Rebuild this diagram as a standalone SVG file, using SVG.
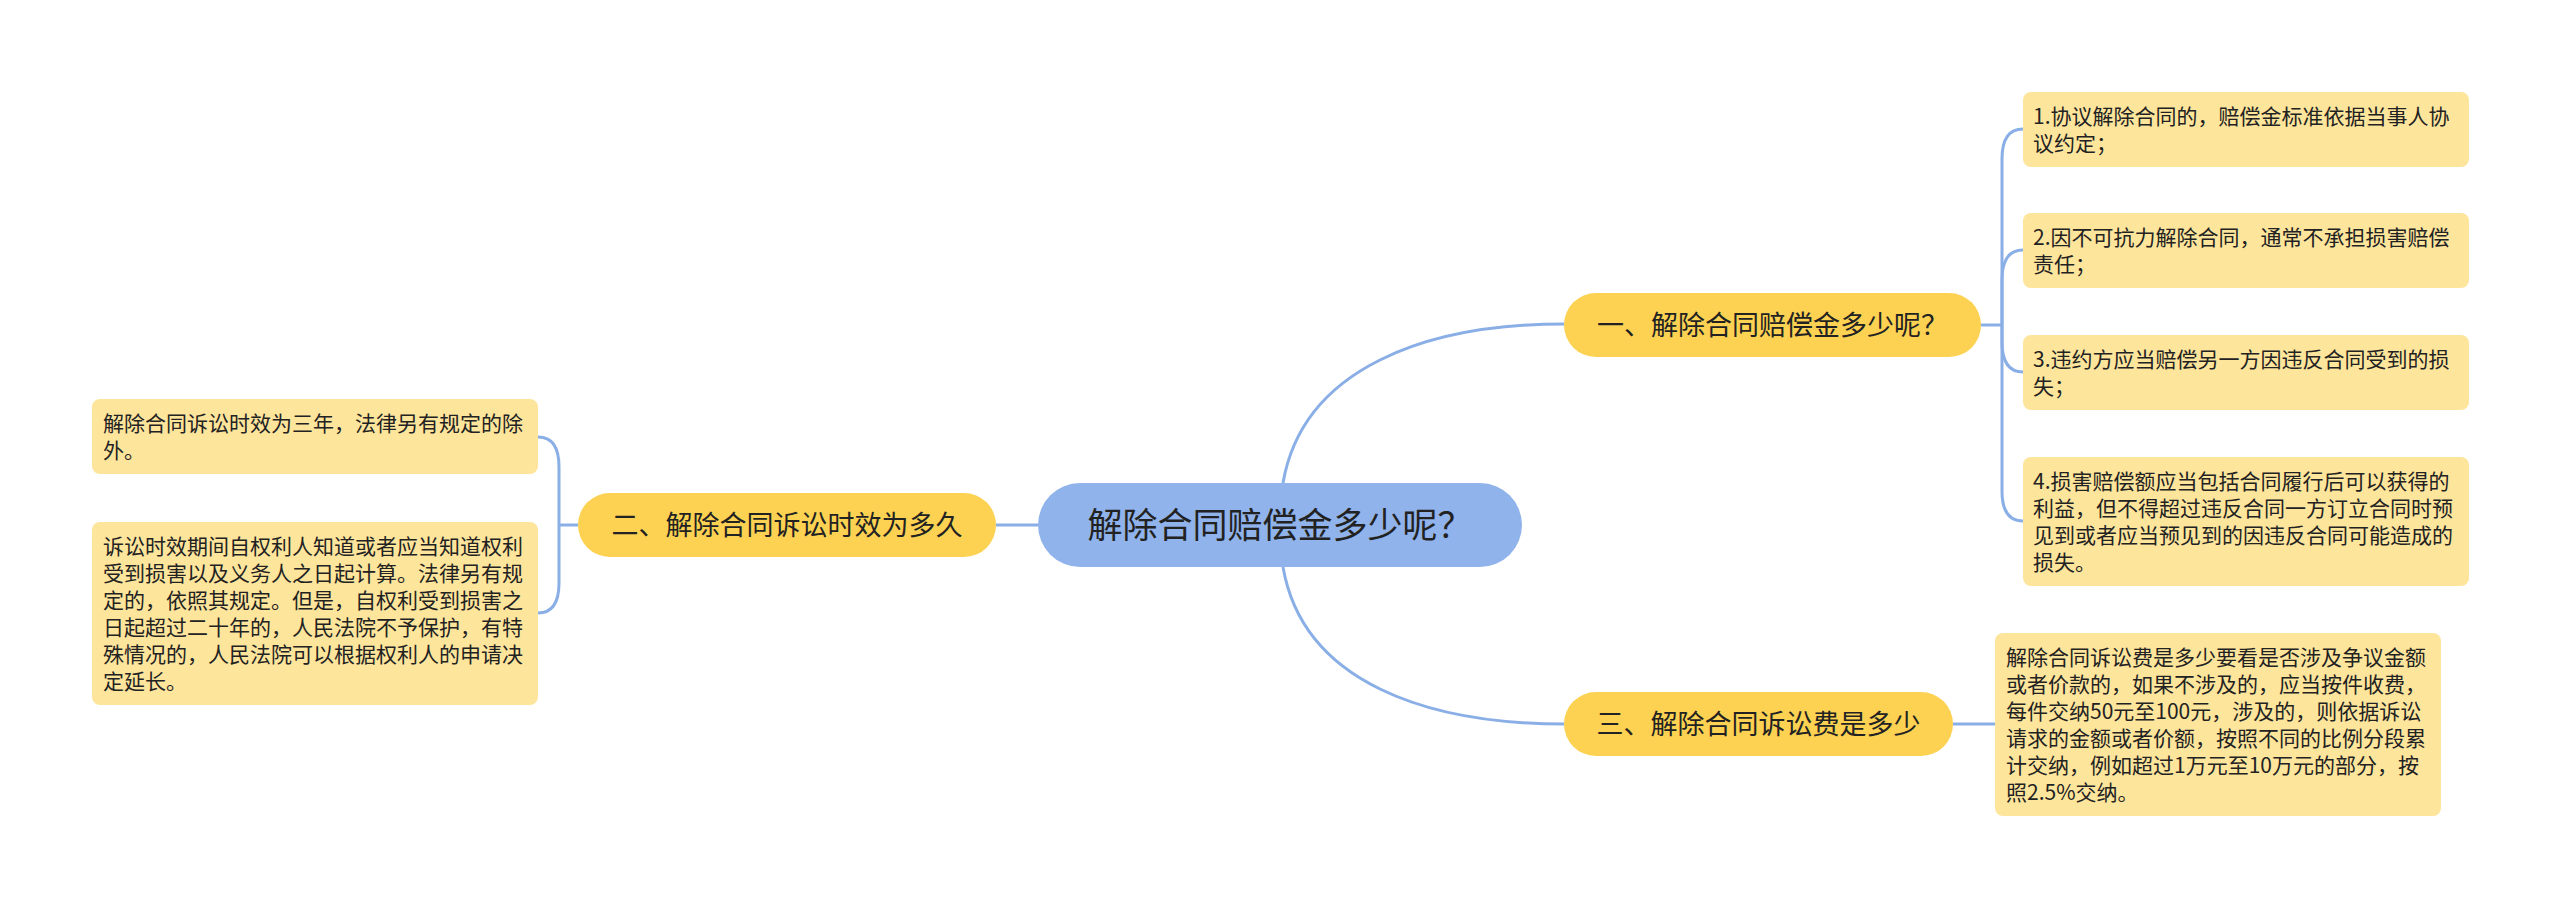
<svg xmlns="http://www.w3.org/2000/svg" width="2560" height="909" viewBox="0 0 2560 909">
<style>
.conn{fill:none;stroke:#8aaee6;stroke-width:3}
.root{fill:#8fb3ea}
.br{fill:#fdd252}
.leaf{fill:#fee59c}
text{font-family:"Noto Sans CJK SC","Noto Sans",sans-serif;fill:#222222}
.t-root{font-size:35px;text-anchor:middle}
.t-br{font-size:27px;text-anchor:middle}
.t-leaf{font-size:21px}
</style>
<rect width="2560" height="909" fill="#ffffff"/>
<g id="connectors">
<path class="conn" d="M1283,483 C1303,367 1428,324 1564,324"/>
<path class="conn" d="M1283,567 C1303,683 1428,724 1564,724"/>
<path class="conn" d="M1038,525 H996"/>
<path class="conn" d="M578,525 H559"/>
<path class="conn" d="M559,525 V467 Q559,437 538,437"/>
<path class="conn" d="M559,525 V583 Q559,613 538,613"/>
<path class="conn" d="M1981,325 H2002"/>
<path class="conn" d="M2002,325 V159 Q2002,129 2023,129"/>
<path class="conn" d="M2002,325 V280 Q2002,250 2023,250"/>
<path class="conn" d="M2002,325 V342 Q2002,372 2023,372"/>
<path class="conn" d="M2002,325 V491 Q2002,521 2023,521"/>
<path class="conn" d="M1953,724 H1995"/>
</g>
<g id="root">
<rect class="root" x="1038" y="483" width="484" height="84" rx="42"/>
<text class="t-root" x="1280" y="538">解除合同赔偿金多少呢？</text>
</g>
<g id="branch1">
<rect class="br" x="1564" y="293" width="417" height="64" rx="32"/>
<text class="t-br" x="1772.5" y="335">一、解除合同赔偿金多少呢？</text>
</g>
<g id="branch2">
<rect class="br" x="578" y="493" width="418" height="64" rx="32"/>
<text class="t-br" x="787" y="535">二、解除合同诉讼时效为多久</text>
</g>
<g id="branch3">
<rect class="br" x="1564" y="692" width="389" height="64" rx="32"/>
<text class="t-br" x="1758.5" y="734">三、解除合同诉讼费是多少</text>
</g>
<g id="leaf1-1">
<rect class="leaf" x="2023" y="92" width="446" height="75" rx="8"/>
<text class="t-leaf" x="2033" y="124">1.协议解除合同的，赔偿金标准依据当事人协</text>
<text class="t-leaf" x="2033" y="151">议约定；</text>
</g>
<g id="leaf1-2">
<rect class="leaf" x="2023" y="213" width="446" height="75" rx="8"/>
<text class="t-leaf" x="2033" y="245">2.因不可抗力解除合同，通常不承担损害赔偿</text>
<text class="t-leaf" x="2033" y="272">责任；</text>
</g>
<g id="leaf1-3">
<rect class="leaf" x="2023" y="335" width="446" height="75" rx="8"/>
<text class="t-leaf" x="2033" y="367">3.违约方应当赔偿另一方因违反合同受到的损</text>
<text class="t-leaf" x="2033" y="394">失；</text>
</g>
<g id="leaf1-4">
<rect class="leaf" x="2023" y="457" width="446" height="129" rx="8"/>
<text class="t-leaf" x="2033" y="489">4.损害赔偿额应当包括合同履行后可以获得的</text>
<text class="t-leaf" x="2033" y="516">利益，但不得超过违反合同一方订立合同时预</text>
<text class="t-leaf" x="2033" y="543">见到或者应当预见到的因违反合同可能造成的</text>
<text class="t-leaf" x="2033" y="570">损失。</text>
</g>
<g id="leaf2-1">
<rect class="leaf" x="92" y="399" width="446" height="75" rx="8"/>
<text class="t-leaf" x="103" y="431">解除合同诉讼时效为三年，法律另有规定的除</text>
<text class="t-leaf" x="103" y="458">外。</text>
</g>
<g id="leaf2-2">
<rect class="leaf" x="92" y="522" width="446" height="183" rx="8"/>
<text class="t-leaf" x="103" y="554">诉讼时效期间自权利人知道或者应当知道权利</text>
<text class="t-leaf" x="103" y="581">受到损害以及义务人之日起计算。法律另有规</text>
<text class="t-leaf" x="103" y="608">定的，依照其规定。但是，自权利受到损害之</text>
<text class="t-leaf" x="103" y="635">日起超过二十年的，人民法院不予保护，有特</text>
<text class="t-leaf" x="103" y="662">殊情况的，人民法院可以根据权利人的申请决</text>
<text class="t-leaf" x="103" y="689">定延长。</text>
</g>
<g id="leaf3-1">
<rect class="leaf" x="1995" y="633" width="446" height="183" rx="8"/>
<text class="t-leaf" x="2006" y="665">解除合同诉讼费是多少要看是否涉及争议金额</text>
<text class="t-leaf" x="2006" y="692">或者价款的，如果不涉及的，应当按件收费，</text>
<text class="t-leaf" x="2006" y="719">每件交纳50元至100元，涉及的，则依据诉讼</text>
<text class="t-leaf" x="2006" y="746">请求的金额或者价额，按照不同的比例分段累</text>
<text class="t-leaf" x="2006" y="773">计交纳，例如超过1万元至10万元的部分，按</text>
<text class="t-leaf" x="2006" y="800">照2.5%交纳。</text>
</g>
</svg>
